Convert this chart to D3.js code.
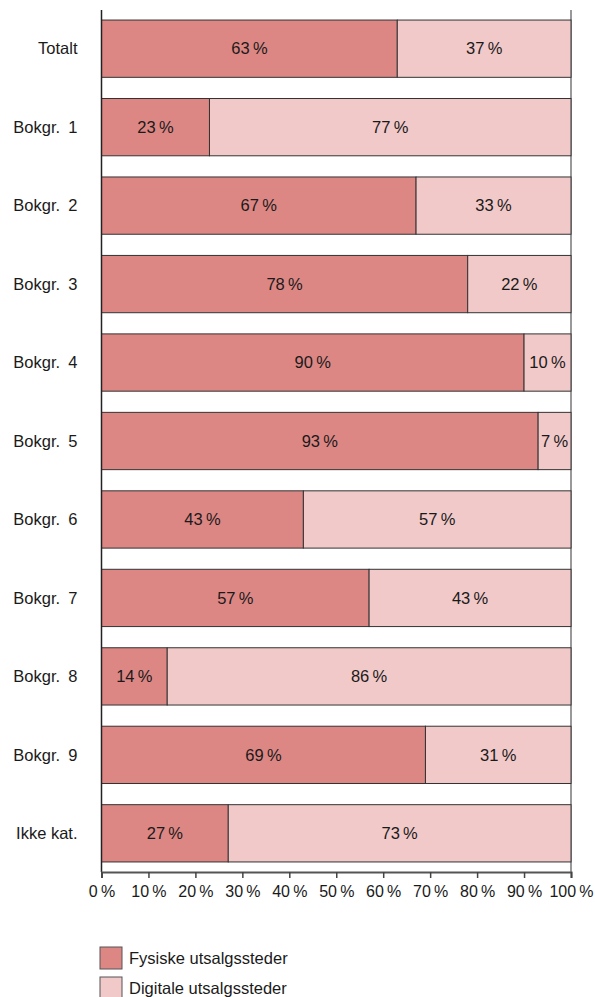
<!DOCTYPE html>
<html>
<head>
<meta charset="utf-8">
<script src="https://cdn.jsdelivr.net/npm/d3@7"></script>
<style>
  html, body { margin: 0; padding: 0; background: #fff; }
  svg { display: block; font-family: "Liberation Sans", Arial, sans-serif; }
</style>
</head>
<body>
<svg id="chart" width="595" height="997"></svg>
<script>
// Categories and shares (per cent) for the two channel types
const categories = ["Totalt", "Bokgr. 1", "Bokgr. 2", "Bokgr. 3", "Bokgr. 4", "Bokgr. 5",
                    "Bokgr. 6", "Bokgr. 7", "Bokgr. 8", "Bokgr. 9", "Ikke kat."];
const fysiske  = [63, 23, 67, 78, 90, 93, 43, 57, 14, 69, 27];
const digitale = [37, 77, 33, 22, 10,  7, 57, 43, 86, 31, 73];
const seriesNames = ["Fysiske utsalgssteder", "Digitale utsalgssteder"];
const tickValues = [0, 10, 20, 30, 40, 50, 60, 70, 80, 90, 100];

const colors = ["#dd8785", "#f1c9c9"];
const pct = v => v + "\u202F%";
const fontSize = 16.5;

const svg = d3.select("#chart");
const margin = { left: 101.5, right: 24, top: 10, bottom: 872 };

const x = d3.scaleLinear().domain([0, 100]).range([margin.left, 595 - margin.right]);
const y = d3.scaleBand().domain(categories).range([margin.top, margin.bottom])
  .paddingInner(0.27).paddingOuter(0.128);

const rows = categories.map((c, i) => ({ cat: c, vals: [fysiske[i], digitale[i]] }));
const stack = d3.stack().keys([0, 1]).value((d, k) => d.vals[k]);
const layers = stack(rows);

// Right boundary line at 100 %
svg.append("line")
  .attr("x1", x(100)).attr("x2", x(100))
  .attr("y1", margin.top).attr("y2", margin.bottom)
  .attr("stroke", "#777").attr("stroke-width", 1.5);

// Bars
const g = svg.append("g");
layers.forEach((layer, k) => {
  g.selectAll(null).data(layer).enter().append("rect")
    .attr("x", d => x(d[0]))
    .attr("y", d => y(d.data.cat))
    .attr("width", d => x(d[1]) - x(d[0]))
    .attr("height", y.bandwidth())
    .attr("fill", colors[k])
    .attr("stroke", "#333")
    .attr("stroke-width", 1);
});

// Value labels
layers.forEach((layer, k) => {
  g.selectAll(null).data(layer).enter().append("text")
    .attr("x", d => (x(d[0]) + x(d[1])) / 2)
    .attr("y", d => y(d.data.cat) + y.bandwidth() / 2)
    .attr("dy", "0.35em")
    .attr("text-anchor", "middle")
    .attr("font-size", fontSize)
    .attr("fill", "#1a1a1a")
    .text(d => pct(d[1] - d[0]));
});

// Left axis line
svg.append("line")
  .attr("x1", x(0)).attr("x2", x(0))
  .attr("y1", margin.top).attr("y2", margin.bottom)
  .attr("stroke", "#222").attr("stroke-width", 1.5);

// Category labels
svg.append("g").selectAll("text").data(categories).enter().append("text")
  .attr("x", x(0) - 24)
  .attr("y", d => y(d) + y.bandwidth() / 2)
  .attr("dy", "0.35em")
  .attr("text-anchor", "end")
  .attr("font-size", fontSize)
  .attr("fill", "#1a1a1a")
  .text(d => d.replace(". ", ".\u2002"));

// Bottom axis
const xAxis = d3.axisBottom(x).tickValues(tickValues).tickSize(6).tickPadding(8)
  .tickFormat(pct);
const ax = svg.append("g").attr("transform", `translate(0,${margin.bottom})`).call(xAxis);
ax.select(".domain").attr("stroke", "#555").attr("stroke-width", 2);
ax.selectAll(".tick line").attr("stroke", "#444").attr("stroke-width", 1.5);
ax.selectAll(".tick text").attr("font-size", 16).attr("fill", "#1a1a1a")
  .attr("font-family", "'Liberation Sans', Arial, sans-serif");

// Legend
const legend = svg.append("g");
seriesNames.forEach((name, k) => {
  const ly = 947 + k * 30;
  legend.append("rect")
    .attr("x", 100).attr("y", ly).attr("width", 22).attr("height", 22)
    .attr("fill", colors[k]).attr("stroke", "#555").attr("stroke-width", 1);
  legend.append("text")
    .attr("x", 129).attr("y", ly + 11).attr("dy", "0.35em")
    .attr("font-size", fontSize).attr("fill", "#1a1a1a")
    .text(name);
});
</script>
</body>
</html>
